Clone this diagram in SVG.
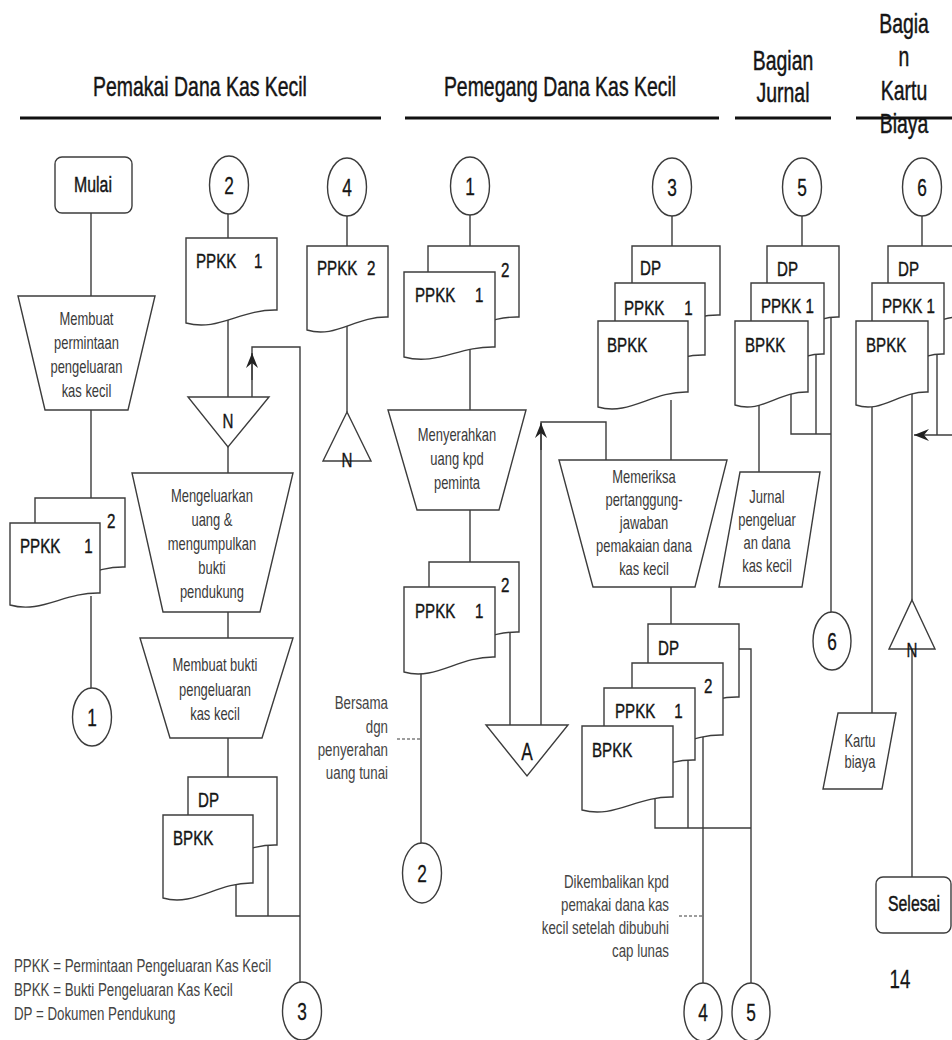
<svg xmlns="http://www.w3.org/2000/svg" width="952" height="1040" viewBox="0 0 952 1040">
<defs>
<style>
.ln{fill:none;stroke:#3c3c3c;stroke-width:1.4}
.dash{fill:none;stroke:#3c3c3c;stroke-width:1.2;stroke-dasharray:3 2}
.sh{fill:#fff;stroke:#3c3c3c;stroke-width:1.4}
.hl{stroke:#111;stroke-width:3.2}
text{font-family:"Liberation Sans",Arial,sans-serif}
.h{font-size:27px;fill:#151515;stroke:#151515;stroke-width:0.45;text-anchor:middle}
.l{font-size:21px;fill:#151515;stroke:#151515;stroke-width:0.4}
.lm{font-size:21px;fill:#151515;stroke:#151515;stroke-width:0.4;text-anchor:middle}
.c{font-size:24px;fill:#151515;stroke:#151515;stroke-width:0.3;text-anchor:middle}
.p{font-size:18px;fill:#3a3a3a;text-anchor:middle}
.n{font-size:18.5px;fill:#444;text-anchor:end}
.g{font-size:18.5px;fill:#444}
</style>
<marker id="ah" viewBox="-16 -7 17 14" refX="0" refY="0" markerWidth="17" markerHeight="14" markerUnits="userSpaceOnUse" orient="auto">
<path d="M0,0 L-15,-6 L-10,0 L-15,6 Z" fill="#222"/>
</marker>
</defs>
<rect width="952" height="1040" fill="#fff"/>

<g id="lanes">
<g transform="scale(0.72 1)">
<text class="h" x="277.8" y="96">Pemakai Dana Kas Kecil</text>
<text class="h" x="777.8" y="96">Pemegang Dana Kas Kecil</text>
<text class="h" x="1087.5" y="70">Bagian</text>
<text class="h" x="1087.5" y="102">Jurnal</text>
<text class="h" x="1255.6" y="33">Bagia</text>
<text class="h" x="1255.6" y="66">n</text>
<text class="h" x="1255.6" y="100">Kartu</text>
<text class="h" x="1255.6" y="133">Biaya</text>
</g>
<line class="hl" x1="20" y1="118" x2="381" y2="118"/>
<line class="hl" x1="405" y1="118" x2="719" y2="118"/>
<line class="hl" x1="735" y1="118" x2="831" y2="118"/>
<line class="hl" x1="856" y1="118" x2="952" y2="118"/>
</g>

<g id="connectors">
<path class="ln" d="M91,185 V296 M91,410 V498 M91,596 V717"/>
<path class="ln" d="M228,185 V238 M228,320 V397 M228,447 V473 M228,612 V638 M228,738 V777"/>
<path class="ln" d="M252,397 V347 H300 V1011"/>
<path class="ln" d="M252,380 V353" marker-end="url(#ah)"/>
<path class="ln" d="M236,880 V916 H300 M268,840 V916"/>
<path class="ln" d="M347,187 V246 M347,325 V412"/>
<path class="ln" d="M470,186 V246 M470,350 V410 M470,510 V562 M510,628 V725 M421,665 V873"/>
<path class="ln" d="M541,725 V422 H606 V460"/>
<path class="ln" d="M541,450 V423" marker-end="url(#ah)"/>
<path class="dash" d="M397,739 H421"/>
<path class="ln" d="M672,187 V246 M671,400 V460 M671,587 V624 M655,795 V828 H751 M688,755 V828 M703,730 V1012 M735,649 H751 V1012"/>
<path class="dash" d="M679,916 H703"/>
<path class="ln" d="M802,187 V246 M791,390 V434 H831 M816,350 V434 M831,312 V641 M759,400 V472"/>
<path class="ln" d="M922,187 V246 M937,350 V435 M912,390 V600 M912,649 V877 M872,400 V713"/>
<path class="ln" d="M952,435 H914" marker-end="url(#ah)"/>
</g>

<g id="start">
<rect class="sh" x="55" y="157" width="77" height="56" rx="7"/>
<g transform="scale(0.72 1)"><text class="h" style="font-size:22px" x="129.2" y="192">Mulai</text></g>
</g>

<g id="make-request">
<polygon class="sh" points="18,296 155,296 128,410 45,410"/>
<g transform="scale(0.72 1)">
<text class="p" x="120.1" y="325">Membuat</text>
<text class="p" x="120.1" y="349">permintaan</text>
<text class="p" x="120.1" y="373">pengeluaran</text>
<text class="p" x="120.1" y="397">kas kecil</text>
</g>
</g>

<g id="doc-ppkk-a">
<path class="sh" d="M35,498 H125 V567 C89,566 66.5,589 35,580 Z"/>
<path class="sh" d="M10,523 H100 V593 C64,592 41.5,614 10,605 Z"/>
<g transform="scale(0.72 1)">
<text class="l" x="148.6" y="528">2</text>
<text class="l" x="27.8" y="553">PPKK<tspan x="111.1"> 1</tspan></text>
</g>
</g>

<g id="conn-1-out">
<ellipse class="sh" cx="92" cy="717" rx="19.5" ry="29"/>
<g transform="scale(0.72 1)"><text class="c" x="127.8" y="726">1</text></g>
</g>

<g id="conn-2-in">
<ellipse class="sh" cx="229" cy="185" rx="19.5" ry="29"/>
<g transform="scale(0.72 1)"><text class="c" x="318.1" y="194">2</text></g>
</g>

<g id="doc-ppkk-b">
<path class="sh" d="M186,238 H277 V310 C240.6,309 217.9,332 186,323 Z"/>
<g transform="scale(0.72 1)"><text class="l" x="272.2" y="268">PPKK<tspan x="347"> 1</tspan></text></g>
</g>

<g id="file-n-a">
<polygon class="sh" points="188,397 269,397 228,447"/>
<g transform="scale(0.72 1)"><text class="lm" x="316.7" y="428">N</text></g>
</g>

<g id="pay-out">
<polygon class="sh" points="132,473 293,473 260,612 163,612"/>
<g transform="scale(0.72 1)">
<text class="p" x="294.4" y="502">Mengeluarkan</text>
<text class="p" x="294.4" y="526">uang &amp;</text>
<text class="p" x="294.4" y="550">mengumpulkan</text>
<text class="p" x="294.4" y="574">bukti</text>
<text class="p" x="294.4" y="598">pendukung</text>
</g>
</g>

<g id="make-voucher">
<polygon class="sh" points="140,638 293,638 262,738 170,738"/>
<g transform="scale(0.72 1)">
<text class="p" x="298.6" y="671">Membuat bukti</text>
<text class="p" x="298.6" y="696">pengeluaran</text>
<text class="p" x="298.6" y="720">kas kecil</text>
</g>
</g>

<g id="doc-dp-bpkk-a">
<path class="sh" d="M188,777 H277 V845 C241.4,844 219.2,867 188,858 Z"/>
<path class="sh" d="M163,815 H253 V883 C217,882 194.5,907 163,898 Z"/>
<g transform="scale(0.72 1)">
<text class="l" x="275" y="807">DP</text>
<text class="l" x="240.3" y="845">BPKK</text>
</g>
</g>

<g id="conn-3-out">
<ellipse class="sh" cx="302" cy="1011" rx="19.5" ry="29"/>
<g transform="scale(0.72 1)"><text class="c" x="419.4" y="1020">3</text></g>
</g>

<g id="legend">
<g transform="scale(0.72 1)">
<text class="g" x="19.4" y="972">PPKK = Permintaan Pengeluaran Kas Kecil</text>
<text class="g" x="19.4" y="996">BPKK = Bukti Pengeluaran Kas Kecil</text>
<text class="g" x="19.4" y="1020">DP = Dokumen Pendukung</text>
</g>
</g>

<g id="conn-4-in">
<ellipse class="sh" cx="347" cy="187" rx="19.5" ry="29"/>
<g transform="scale(0.72 1)"><text class="c" x="481.9" y="196">4</text></g>
</g>

<g id="doc-ppkk2">
<path class="sh" d="M307,246 H388 V317 C355.6,316 335.4,339 307,330 Z"/>
<g transform="scale(0.72 1)"><text class="l" x="440.3" y="275">PPKK<tspan x="504"> 2</tspan></text></g>
</g>

<g id="file-n-b">
<polygon class="sh" points="347,412 371,461 323,461"/>
<g transform="scale(0.72 1)"><text class="lm" x="481.9" y="467">N</text></g>
</g>

<g id="conn-1-in">
<ellipse class="sh" cx="470" cy="186" rx="19.5" ry="29"/>
<g transform="scale(0.72 1)"><text class="c" x="652.8" y="195">1</text></g>
</g>

<g id="doc-ppkk-c">
<path class="sh" d="M428,246 H519 V317 C482.6,316 459.9,339 428,330 Z"/>
<path class="sh" d="M404,272 H495 V347 C458.6,346 435.9,366 404,357 Z"/>
<g transform="scale(0.72 1)">
<text class="l" x="695.8" y="277">2</text>
<text class="l" x="576.4" y="302">PPKK<tspan x="654"> 1</tspan></text>
</g>
</g>

<g id="hand-money">
<polygon class="sh" points="388,410 526,410 499,510 417,510"/>
<g transform="scale(0.72 1)">
<text class="p" x="634.7" y="441">Menyerahkan</text>
<text class="p" x="634.7" y="465">uang kpd</text>
<text class="p" x="634.7" y="489">peminta</text>
</g>
</g>

<g id="doc-ppkk-d">
<path class="sh" d="M429,562 H519 V632 C483,631 460.5,654 429,645 Z"/>
<path class="sh" d="M404,587 H495 V657 C458.6,656 435.9,681 404,672 Z"/>
<g transform="scale(0.72 1)">
<text class="l" x="695.8" y="592">2</text>
<text class="l" x="576.4" y="618">PPKK<tspan x="654"> 1</tspan></text>
</g>
</g>

<g id="file-a">
<polygon class="sh" points="486,725 568,725 527,776"/>
<g transform="scale(0.72 1)"><text class="c" x="731.9" y="760">A</text></g>
</g>

<g id="note-bersama">
<g transform="scale(0.72 1)">
<text class="n" x="538.9" y="709">Bersama</text>
<text class="n" x="538.9" y="733">dgn</text>
<text class="n" x="538.9" y="756">penyerahan</text>
<text class="n" x="538.9" y="779">uang tunai</text>
</g>
</g>

<g id="conn-2-out">
<ellipse class="sh" cx="422" cy="873" rx="19.5" ry="30"/>
<g transform="scale(0.72 1)"><text class="c" x="586.1" y="882">2</text></g>
</g>

<g id="conn-3-in">
<ellipse class="sh" cx="672" cy="187" rx="19.5" ry="29"/>
<g transform="scale(0.72 1)"><text class="c" x="933.3" y="196">3</text></g>
</g>

<g id="doc-dp-ppkk-bpkk-a">
<path class="sh" d="M632,246 H720 V315 C684.8,314 662.8,337 632,328 Z"/>
<path class="sh" d="M615,283 H705 V355 C669,354 646.5,377 615,368 Z"/>
<path class="sh" d="M598,321 H688 V392 C652,391 629.5,416 598,407 Z"/>
<g transform="scale(0.72 1)">
<text class="l" x="888.9" y="275">DP</text>
<text class="l" x="866.7" y="315">PPKK<tspan x="944.5"> 1</tspan></text>
<text class="l" x="843.1" y="352">BPKK</text>
</g>
</g>

<g id="check">
<polygon class="sh" points="559,460 727,460 695,587 593,587"/>
<g transform="scale(0.72 1)">
<text class="p" x="894.4" y="483">Memeriksa</text>
<text class="p" x="894.4" y="506">pertanggung-</text>
<text class="p" x="894.4" y="529">jawaban</text>
<text class="p" x="894.4" y="552">pemakaian dana</text>
<text class="p" x="894.4" y="575">kas kecil</text>
</g>
</g>

<g id="doc-stack-b">
<path class="sh" d="M648,624 H739 V697 C702.6,696 679.9,719 648,710 Z"/>
<path class="sh" d="M632,663 H723 V735 C686.6,734 663.9,757 632,748 Z"/>
<path class="sh" d="M604,688 H695 V760 C658.6,759 635.9,782 604,773 Z"/>
<path class="sh" d="M582,726 H673 V797 C636.6,796 613.9,819 582,810 Z"/>
<g transform="scale(0.72 1)">
<text class="l" x="913.9" y="655">DP</text>
<text class="l" x="977.8" y="693">2</text>
<text class="l" x="854.2" y="718">PPKK<tspan x="930.5"> 1</tspan></text>
<text class="l" x="822.2" y="757">BPKK</text>
</g>
</g>

<g id="note-dikembalikan">
<g transform="scale(0.72 1)">
<text class="n" x="929.2" y="888">Dikembalikan kpd</text>
<text class="n" x="929.2" y="911">pemakai dana kas</text>
<text class="n" x="929.2" y="934">kecil setelah dibubuhi</text>
<text class="n" x="929.2" y="957">cap lunas</text>
</g>
</g>

<g id="conn-4-out">
<ellipse class="sh" cx="703" cy="1012" rx="19" ry="29"/>
<g transform="scale(0.72 1)"><text class="c" x="976.4" y="1021">4</text></g>
</g>

<g id="conn-5-out">
<ellipse class="sh" cx="751" cy="1012" rx="19" ry="29"/>
<g transform="scale(0.72 1)"><text class="c" x="1043.1" y="1021">5</text></g>
</g>

<g id="conn-5-in">
<ellipse class="sh" cx="802" cy="187" rx="19.5" ry="29"/>
<g transform="scale(0.72 1)"><text class="c" x="1113.9" y="196">5</text></g>
</g>

<g id="doc-stack-c">
<path class="sh" d="M767,246 H839 V317 C810.2,316 792.2,339 767,330 Z"/>
<path class="sh" d="M751,283 H824 V354 C794.8,353 776.6,376 751,367 Z"/>
<path class="sh" d="M735,321 H808 V392 C778.8,391 760.6,414 735,405 Z"/>
<g transform="scale(0.72 1)">
<text class="l" x="1079.2" y="276">DP</text>
<text class="l" x="1056.9" y="313">PPKK 1</text>
<text class="l" x="1034.7" y="352">BPKK</text>
</g>
</g>

<g id="journal">
<polygon class="sh" points="740,472 820,472 802,587 719,587"/>
<g transform="scale(0.72 1)">
<text class="p" x="1065.3" y="503">Jurnal</text>
<text class="p" x="1065.3" y="526">pengeluar</text>
<text class="p" x="1065.3" y="549">an dana</text>
<text class="p" x="1065.3" y="572">kas kecil</text>
</g>
</g>

<g id="conn-6-out">
<ellipse class="sh" cx="832" cy="641" rx="19" ry="29"/>
<g transform="scale(0.72 1)"><text class="c" x="1155.6" y="650">6</text></g>
</g>

<g id="conn-6-in">
<ellipse class="sh" cx="922" cy="187" rx="19.5" ry="29"/>
<g transform="scale(0.72 1)"><text class="c" x="1280.6" y="196">6</text></g>
</g>

<g id="doc-stack-d">
<path class="sh" d="M888,246 H962 V317 C932.4,316 913.9,339 888,330 Z"/>
<path class="sh" d="M872,283 H944 V354 C915.2,353 897.2,376 872,367 Z"/>
<path class="sh" d="M856,321 H928 V392 C899.2,391 881.2,414 856,405 Z"/>
<g transform="scale(0.72 1)">
<text class="l" x="1247.2" y="276">DP</text>
<text class="l" x="1225" y="313">PPKK 1</text>
<text class="l" x="1202.8" y="352">BPKK</text>
</g>
</g>

<g id="file-n-c">
<polygon class="sh" points="912,600 935,649 889,649"/>
<g transform="scale(0.72 1)"><text class="lm" x="1266.7" y="657">N</text></g>
</g>

<g id="cost-card">
<polygon class="sh" points="838,713 896,713 882,789 823,789"/>
<g transform="scale(0.72 1)">
<text class="p" x="1194.4" y="747">Kartu</text>
<text class="p" x="1194.4" y="768">biaya</text>
</g>
</g>

<g id="end">
<rect class="sh" x="876" y="877" width="75" height="56" rx="7"/>
<g transform="scale(0.72 1)"><text class="h" style="font-size:22px" x="1269.4" y="911">Selesai</text></g>
</g>

<g id="page-number">
<g transform="scale(0.72 1)"><text class="c" style="font-size:26px" x="1250" y="988">14</text></g>
</g>
</svg>
